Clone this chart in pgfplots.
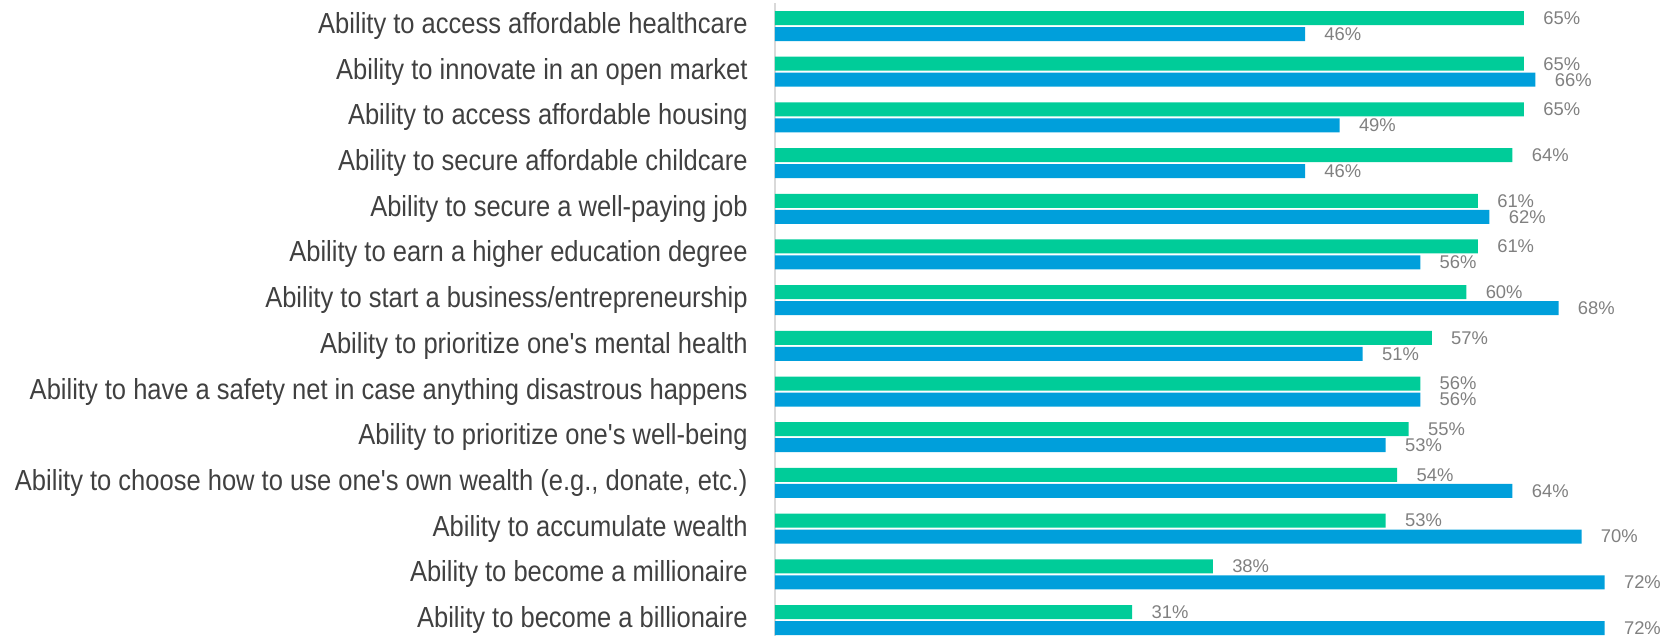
\documentclass[border=0pt]{standalone}
\usepackage{fontspec}
\setmainfont{Liberation Sans}
\newfontfamily\catfont{Liberation Sans}[FakeStretch=0.88]
\usepackage{pgfplots}
\pgfplotsset{compat=1.18}
\definecolor{cgreen}{HTML}{00CC99}
\definecolor{cblue}{HTML}{009FDB}
\definecolor{labgray}{HTML}{404040}
\definecolor{valgray}{HTML}{808080}
\definecolor{axgray}{HTML}{D9D9D9}
\begin{document}
\begin{tikzpicture}
\begin{axis}[name=ax,
  scale only axis, width=446.5pt, height=316.5pt,
  xbar, bar width=7pt,
  xmin=0, xmax=77.5, ymin=-0.35, ymax=13.504,
  axis x line=none, axis y line*=left,
  y axis line style={draw=axgray, line width=0.9pt, -},
  ytick={0,...,13}, major tick length=0,
  /pgf/number format/assume math mode=true,
  yticklabels={Ability to become a billionaire,Ability to become a millionaire,Ability to accumulate wealth,{Ability to choose how to use one's own wealth (e.g., donate, etc.)},Ability to prioritize one's well-being,Ability to have a safety net in case anything disastrous happens,Ability to prioritize one's mental health,Ability to start a business/entrepreneurship,Ability to earn a higher education degree,Ability to secure a well-paying job,Ability to secure affordable childcare,Ability to access affordable housing,Ability to innovate in an open market,Ability to access affordable healthcare},
  yticklabel style={font=\catfont\fontsize{14.5}{16}\selectfont, text=labgray, anchor=east, inner sep=0pt, xshift=-13.5pt},
  nodes near coords={\pgfmathprintnumber{\pgfplotspointmeta}\%},
  every node near coord/.append style={anchor=west, inner sep=0pt, xshift=9.5pt, font=\fontsize{9.2}{10}\selectfont, text=valgray},
  clip=false,
]
\addplot[fill=cgreen, draw=none, bar shift=4pt] coordinates {
(31,0) (38,1) (53,2) (54,3) (55,4) (56,5) (57,6) (60,7) (61,8) (61,9) (64,10) (65,11) (65,12) (65,13)};
\addplot[fill=cblue, draw=none, bar shift=-4pt] coordinates {
(72,0) (72,1) (70,2) (64,3) (53,4) (56,5) (51,6) (68,7) (56,8) (62,9) (46,10) (49,11) (66,12) (46,13)};
\end{axis}
\pgfresetboundingbox
\path[use as bounding box] ([xshift=-387.5pt]ax.south west) rectangle ([xshift=446.5pt,yshift=318pt]ax.south west);
\end{tikzpicture}
\end{document}
